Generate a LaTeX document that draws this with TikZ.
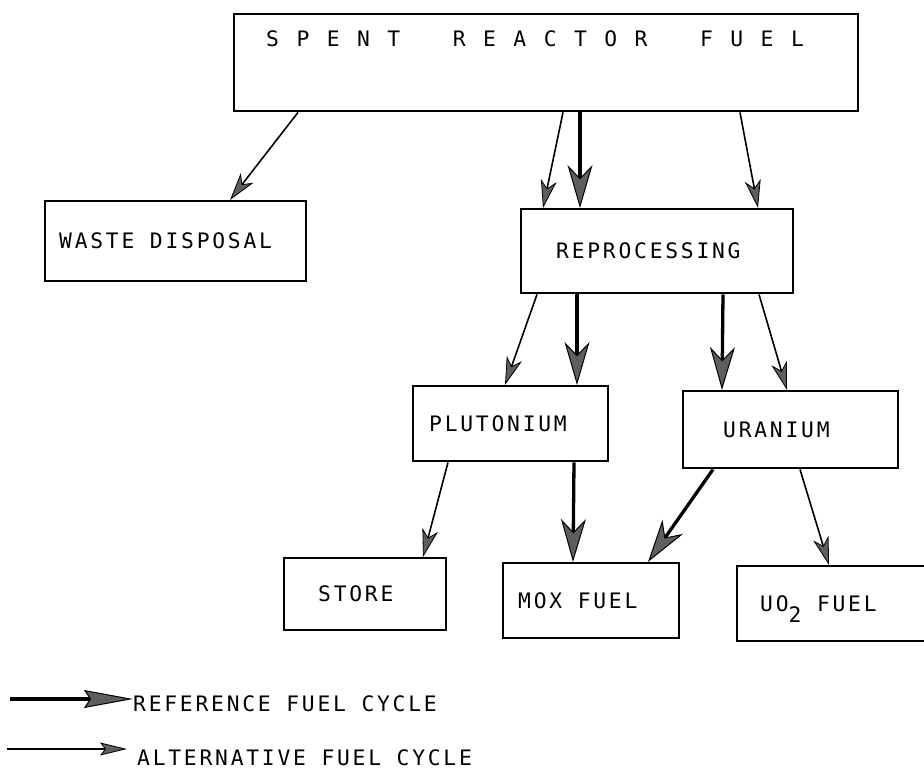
\documentclass[tikz,border=0pt]{standalone}
\usepackage{fontspec}
\usepackage{tikz}
\usetikzlibrary{arrows.meta}
\newfontfamily\printFont{DejaVu Sans Mono}[LetterSpace=13]
\definecolor{tipGray}{HTML}{5E5E5E}
\newcommand{\printSize}{\printFont\fontsize{21.3}{24}\selectfont}

\begin{document}
\begin{tikzpicture}[x=1pt,y=-1pt,
  fuelBox/.style={draw,line width=2.4pt,anchor=north west,text height=15.5pt,text depth=0pt,font=\printSize},
  legendText/.style={anchor=west,inner sep=0pt,text height=15.5pt,text depth=0pt,font=\printSize},
  refArrow/.style={line width=3.3pt,-{Stealth[length=43pt,width=25pt,inset=13pt,fill=tipGray,line width=1pt]}},
  altArrow/.style={line width=1.6pt,-{Stealth[length=28pt,width=16pt,inset=8pt,fill=tipGray,line width=0.8pt]}}]
\useasboundingbox (0,0) rectangle (924,771);
\node[fuelBox,minimum width=624pt,minimum height=97pt,inner xsep=32pt,text depth=48pt] (spent) at (233,13) {\makebox[560pt][l]{\spaceskip=17.5pt S P E N T \hspace{35pt}R E A C T O R \hspace{35pt}F U E L}};
\node[fuelBox,minimum width=261pt,minimum height=80pt,inner xsep=14pt] (waste) at (44,200) {\makebox[233pt][l]{WASTE DISPOSAL}};
\node[fuelBox,minimum width=272pt,minimum height=84pt,inner xsep=35pt] (repro) at (520,208) {\makebox[202pt][l]{REPROCESSING}};
\node[fuelBox,minimum width=195pt,minimum height=75pt,inner xsep=16pt] (pluto) at (412,385) {\makebox[163pt][l]{PLUTONIUM}};
\node[fuelBox,minimum width=215pt,minimum height=77pt,inner xsep=40pt] (uran) at (682,390) {\makebox[135pt][l]{URANIUM}};
\node[fuelBox,minimum width=162pt,minimum height=72pt,inner xsep=34pt] (store) at (283,557) {\makebox[94pt][l]{STORE}};
\node[fuelBox,minimum width=176pt,minimum height=75pt,inner xsep=15pt] (mox) at (502,562) {\makebox[146pt][l]{MOX FUEL}};
\node[fuelBox,minimum width=204pt,minimum height=75pt,inner xsep=23pt] (uo2) at (736,565) {\makebox[158pt][l]{UO\raisebox{-11pt}{2} FUEL}};
\draw[altArrow] ([xshift=65pt]spent.south west) -- ([xshift=186pt]waste.north west);
\draw[altArrow] ([xshift=330pt]spent.south west) -- ([xshift=23pt]repro.north west);
\draw[refArrow] ([xshift=347pt]spent.south west) -- ([xshift=60pt]repro.north west);
\draw[altArrow] ([xshift=507pt]spent.south west) -- ([xshift=238pt]repro.north west);
\draw[altArrow] ([xshift=17pt]repro.south west) -- ([xshift=93pt]pluto.north west);
\draw[refArrow] ([xshift=57pt]repro.south west) -- ([xshift=165pt]pluto.north west);
\draw[refArrow] ([xshift=203pt]repro.south west) -- ([xshift=40pt]uran.north west);
\draw[altArrow] ([xshift=239pt]repro.south west) -- ([xshift=105pt]uran.north west);
\draw[altArrow] ([xshift=36pt]pluto.south west) -- ([xshift=140pt]store.north west);
\draw[refArrow] ([xshift=162pt]pluto.south west) -- ([xshift=71pt]mox.north west);
\draw[refArrow] ([xshift=31pt]uran.south west) -- ([xshift=146pt]mox.north west);
\draw[altArrow] ([xshift=118pt]uran.south west) -- ([xshift=93pt]uo2.north west);
\coordinate (refStart) at (10,699);
\coordinate (altStart) at (7,749);
\node[legendText] (refText) at (133,704) {REFERENCE FUEL CYCLE};
\node[legendText] (altText) at (137,758) {ALTERNATIVE FUEL CYCLE};
\draw[line width=3.3pt,-{Stealth[length=49pt,width=18pt,inset=6pt,fill=tipGray,line width=1pt]}] (refStart) -- (refStart -| refText.west);
\draw[line width=1.6pt,-{Stealth[length=27pt,width=13pt,inset=5pt,fill=tipGray,line width=0.8pt]}] (altStart) -- ([xshift=-10pt]altStart -| altText.west);
\end{tikzpicture}
\end{document}
